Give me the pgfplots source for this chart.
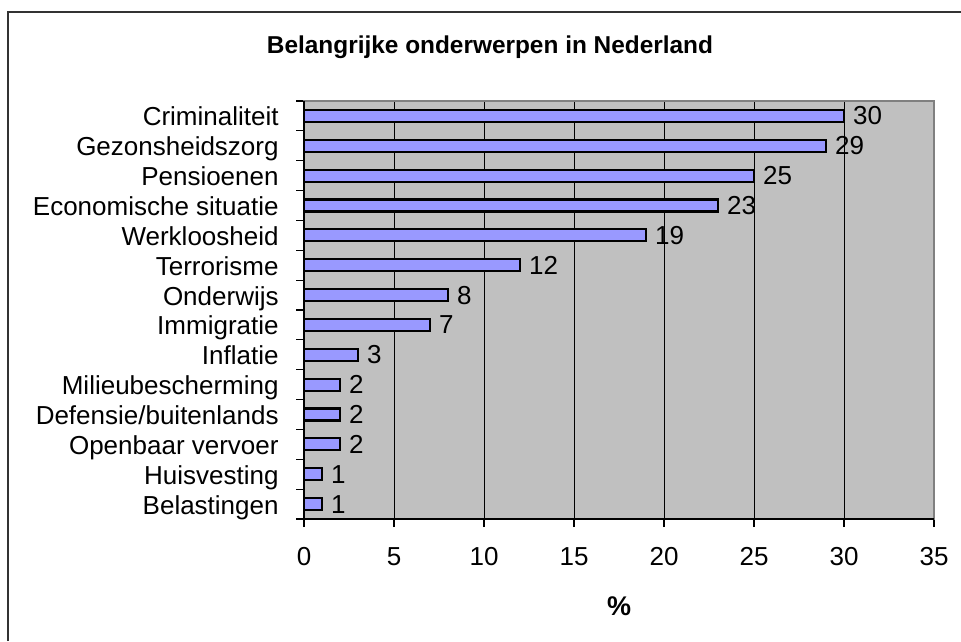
\documentclass[border=0pt]{standalone}
\usepackage{fontspec}
\setmainfont{Liberation Sans}
\usepackage{pgfplots}
\pgfplotsset{compat=1.18}

\definecolor{plotbg}{HTML}{C0C0C0}
\definecolor{barfill}{HTML}{9999FF}
\definecolor{edgegray}{HTML}{808080}

\begin{document}
\begin{tikzpicture}[x=0.5pt,y=-0.5pt]
  % page is 961 x 641 px, 1 px = 0.5pt
  \useasboundingbox (0,0) rectangle (961,641);
  \draw[line width=0.6pt, black!80] (8,641) -- (8,12) -- (961,12);
  \node[anchor=base, font=\fontsize{12.2}{14}\selectfont\bfseries] at (490,53.3)
    {Belangrijke onderwerpen in Nederland};

  \begin{axis}[
      at={(152pt,-259.5pt)}, anchor=south west,
      scale only axis,
      width=315pt, height=209pt,
      xbar, bar width=0.4,
      xmin=0, xmax=35, ymin=-0.5, ymax=13.5,
      clip=false,
      axis background/.style={fill=plotbg},
      axis line style={draw=edgegray, line width=0.8pt},
      xtick={0,5,...,35},
      xmajorgrids, grid style={black, line width=0.5pt},
      % category boundaries carry the ticks, names sit on the extra ticks
      ytick={-0.5,0.5,...,13.5},
      yticklabels={},
      extra y ticks={0,...,13},
      extra y tick labels={Belastingen,Huisvesting,Openbaar vervoer,Defensie/buitenlands,Milieubescherming,Inflatie,Immigratie,Onderwijs,Terrorisme,Werkloosheid,Economische situatie,Pensioenen,Gezonsheidszorg,Criminaliteit},
      extra y tick style={major tick length=0pt},
      tick pos=left, tick align=outside,
      major tick length=4pt,
      tick style={black, line width=0.6pt},
      typeset ticklabels with strut,
      ticklabel style={font=\fontsize{13}{16}\selectfont},
      /pgf/number format/assume math mode=true,
      yticklabel style={anchor=base east, inner sep=0pt, xshift=-12.5pt, yshift=-5pt},
      xticklabel style={inner sep=0pt, yshift=-8pt},
      xlabel={\%},
      xlabel style={at={(axis description cs:0.5,0)}, anchor=center, yshift=-43.5pt,
                    font=\fontsize{13.5}{16}\selectfont\bfseries},
      nodes near coords,
      nodes near coords style={font=\fontsize{13}{16}\selectfont, anchor=west, inner sep=0pt, xshift=4pt},
    ]
    \addplot[fill=barfill, draw=black, line width=1.1pt] coordinates {
      (1,0) (1,1) (2,2) (2,3) (2,4) (3,5) (7,6) (8,7)
      (12,8) (19,9) (23,10) (25,11) (29,12) (30,13)
    };
    \draw[black, line width=0.8pt] (rel axis cs:0,1) -- (rel axis cs:0,0) -- (rel axis cs:1,0);
  \end{axis}
\end{tikzpicture}
\end{document}
